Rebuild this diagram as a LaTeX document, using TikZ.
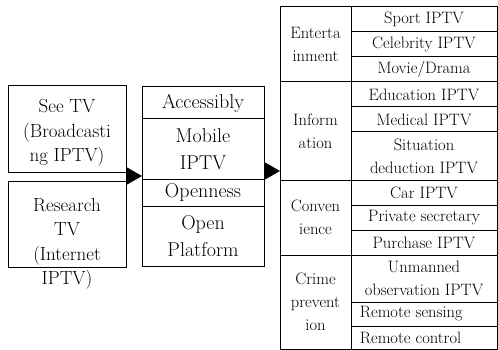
\documentclass[tikz,border=0pt]{standalone}
\usepackage{fontspec}
\usetikzlibrary{arrows.meta}
\begin{document}
\begin{tikzpicture}[x=1pt,y=-1pt,line width=1pt,
  cell/.style={draw,inner sep=0pt,outer sep=0pt,anchor=north west},
  big/.style={font=\fontsize{19}{24.5}\selectfont,align=center},
  wide/.style={font=\fontsize{20}{27}\selectfont,align=center},
  small/.style={font=\fontsize{16.5}{23}\selectfont,align=center},
  tip/.style={-{Triangle[length=16pt,width=18pt]}}]
 \useasboundingbox (0,0) rectangle (498,350);
 % services
 \node[cell,minimum width=118,minimum height=86] (seetv) at (8,86) {};
 \node[cell,minimum width=118,minimum height=86] (research) at (8,181) {};
 \node[big] (seetvtext) at (67,133) {See TV\\(Broadcasti\\ng IPTV)};
 \node[big] (researchtext) at (67,244) {Research\\TV\\(Internet\\IPTV)};
 % features
 \node[cell,wide,minimum width=122,minimum height=32] (access) at (142,87) {Accessibly};
 \node[cell,wide,minimum width=122,minimum height=60] (mobile) at (access.south west) {Mobile\\IPTV};
 \node[cell,wide,minimum width=122,minimum height=27] (open) at (mobile.south west) {Openness};
 \node[cell,wide,minimum width=122,minimum height=60] (platform) at (open.south west) {Open\\Platform};
 % groups
 \node[cell,small,minimum width=71,minimum height=75] (enter) at (280,7) {Enterta\\inment};
 \node[cell,small,minimum width=71,minimum height=98] (info) at (enter.south west) {Inform\\ation};
 \node[cell,small,minimum width=71,minimum height=75] (conv) at (info.south west) {Conven\\ience};
 \node[cell,small,minimum width=71,minimum height=94] (crime) at (conv.south west) {Crime\\prevent\\ion};
 % applications
 \node[cell,small,minimum width=146,minimum height=25] (sport) at (enter.north east) {Sport IPTV};
 \node[cell,small,minimum width=146,minimum height=25] (celeb) at (sport.south west) {Celebrity IPTV};
 \node[cell,small,minimum width=146,minimum height=25] (movie) at (celeb.south west) {Movie/Drama};
 \node[cell,small,minimum width=146,minimum height=25] (edu) at (movie.south west) {Education IPTV};
 \node[cell,small,minimum width=146,minimum height=25] (medical) at (edu.south west) {Medical IPTV};
 \node[cell,small,minimum width=146,minimum height=48] (situation) at (medical.south west) {Situation\\deduction IPTV};
 \node[cell,small,minimum width=146,minimum height=25] (car) at (situation.south west) {Car IPTV};
 \node[cell,small,minimum width=146,minimum height=25] (private) at (car.south west) {Private secretary};
 \node[cell,small,minimum width=146,minimum height=25] (purchase) at (private.south west) {Purchase IPTV};
 \node[cell,small,minimum width=146,minimum height=47] (unmanned) at (purchase.south west) {Unmanned\\observation IPTV};
 \node[cell,minimum width=146,minimum height=24] (sensing) at (unmanned.south west) {};
 \node[cell,minimum width=146,minimum height=23] (control) at (sensing.south west) {};
 \node[small,anchor=west] (sensingtext) at ([xshift=5]sensing.west) {Remote sensing};
 \node[small,anchor=west] (controltext) at ([xshift=5]control.west) {Remote control};
 % arrows
 \coordinate (a1) at (126,176);
 \draw[tip] (a1) -- (a1 -| mobile.west);
 \coordinate (a2) at (264,171);
 \draw[tip] (a2) -- (a2 -| enter.west);
\end{tikzpicture}
\end{document}
